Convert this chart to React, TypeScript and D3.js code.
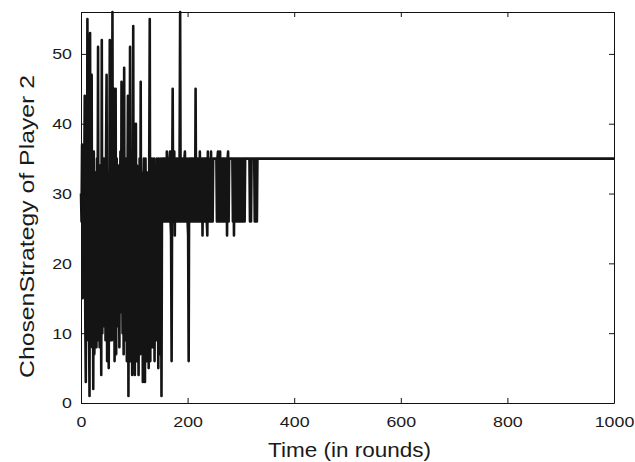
import React from 'react';
import * as d3 from 'd3';

const xTicks = [0, 200, 400, 600, 800, 1000];
const yTicks = [0, 10, 20, 30, 40, 50];

// rounds 0..155, wild phase
const earlyStrategy = [
  30,
  26, 37, 15, 33, 20, 30, 44, 12, 3, 28,
  9, 55, 10, 35, 12, 1, 53, 15, 32, 47,
  8, 27, 2, 36, 7, 11, 33, 24, 8, 35,
  20, 51, 9, 30, 8, 34, 25, 4, 52, 10,
  31, 13, 35, 11, 29, 9, 36, 47, 6, 27,
  33, 5, 24, 52, 9, 34, 28, 9, 56, 10,
  32, 45, 6, 26, 45, 7, 35, 11, 30, 12,
  34, 8, 27, 36, 13, 46, 24, 10, 33, 7,
  48, 9, 30, 25, 35, 6, 28, 44, 1, 31,
  10, 51, 6, 33, 26, 4, 30, 54, 8, 35,
  4, 28, 40, 6, 34, 9, 30, 4, 25, 35,
  7, 46, 11, 33, 27, 3, 30, 35, 9, 3,
  35, 26, 6, 33, 10, 30, 5, 35, 55, 6,
  32, 24, 35, 8, 30, 26, 35, 6, 29, 34,
  9, 35, 10, 31, 5, 35, 26, 33, 7, 35,
  1, 30, 35, 26, 35,
];

// rounds 156..331, switching between 26 and 35
const bandStrategy = [
  26, 35, 26, 35, 26, 36, 26, 35, 26, 35,
  35, 36, 26, 24, 6, 30, 45, 26, 35, 36,
  24, 35, 26, 35, 26, 35, 26, 35, 26, 36,
  56, 26, 35, 26, 35, 26, 35, 26, 35, 36,
  26, 35, 26, 35, 26, 24, 6, 35, 26, 35,
  26, 35, 26, 35, 26, 35, 26, 35, 26, 45,
  26, 35, 26, 35, 26, 35, 26, 36, 26, 35,
  26, 35, 24, 35, 26, 35, 26, 35, 26, 35,
  26, 24, 36, 26, 35, 26, 35, 26, 36, 26,
  35, 26, 35, 35, 35, 35, 35, 35, 35, 26,
  35, 36, 26, 35, 26, 36, 26, 35, 26, 35,
  26, 35, 26, 35, 26, 35, 26, 35, 24, 35,
  36, 26, 35, 35, 35, 35, 35, 35, 35, 26,
  35, 24, 35, 26, 35, 26, 35, 26, 35, 26,
  35, 26, 35, 26, 35, 26, 35, 26, 35, 26,
  35, 26, 35, 35, 35, 35, 35, 35, 35, 35,
  35, 26, 35, 26, 35, 35, 35, 35, 35, 35,
  26, 35, 26, 35, 26, 35,
];

// settled from then on
const settledRounds = [1000];
const settledValues = [35];

const App = () => {
  const Width = 635;
  const Height = 462;
  const margin = { top: 12, right: 21, bottom: 59, left: 81 };
  const chartWidth = Width - margin.left - margin.right;
  const chartHeight = Height - margin.top - margin.bottom;

  const xScale = d3.scaleLinear().domain([0, 1000]).range([0, chartWidth]);
  const yScale = d3.scaleLinear().domain([0, 56]).range([chartHeight, 0]);

  const points: [number, number][] = [...earlyStrategy, ...bandStrategy].map((v, i) => [i, v]);
  settledRounds.forEach((r, i) => points.push([r, settledValues[i]]));

  const line = d3
    .line<[number, number]>()
    .x((d) => xScale(d[0]))
    .y((d) => yScale(d[1]));

  const styleAxis = (g: any, withText: boolean) => {
    g.select('.domain').attr('stroke', '#111').attr('stroke-width', 1);
    g.selectAll('.tick line').attr('stroke', '#111');
    if (withText) {
      g.selectAll('.tick text')
        .attr('fill', '#1a1a1a')
        .style('font-family', '"Liberation Sans", Arial, sans-serif')
        .style('font-size', '15.5px')
        .attr('lengthAdjust', 'spacingAndGlyphs')
        .attr('textLength', (d: number) => String(d).length * 9.9);
    }
  };

  return (
    <svg width={Width} height={Height} style={{ position: 'absolute', left: 0, top: 0 }}>
      <rect width={Width} height={Height} fill="#fff" />
      <g transform={`translate(${margin.left}, ${margin.top})`}>
        <path d={line(points) || ''} fill="none" stroke="#141414" strokeWidth={2.6} strokeLinejoin="round" />

        <g
          transform={`translate(0, ${chartHeight})`}
          ref={(node) => {
            if (node) d3.select(node).call(d3.axisBottom(xScale).tickValues(xTicks).tickFormat(d3.format('d')).tickSizeInner(-5).tickSizeOuter(0).tickPadding(13)).call((g) => styleAxis(g, true));
          }}
        />
        <g
          ref={(node) => {
            if (node) d3.select(node).call(d3.axisTop(xScale).tickValues(xTicks).tickSizeInner(-5).tickSizeOuter(0).tickFormat(() => '')).call((g) => styleAxis(g, false));
          }}
        />
        <g
          ref={(node) => {
            if (node) d3.select(node).call(d3.axisLeft(yScale).tickValues(yTicks).tickFormat(d3.format('d')).tickSizeInner(-5).tickSizeOuter(0).tickPadding(9)).call((g) => styleAxis(g, true));
          }}
        />
        <g
          transform={`translate(${chartWidth}, 0)`}
          ref={(node) => {
            if (node) d3.select(node).call(d3.axisRight(yScale).tickValues(yTicks).tickSizeInner(-5).tickSizeOuter(0).tickFormat(() => '')).call((g) => styleAxis(g, false));
          }}
        />
      </g>

      <text
        x={349.5}
        y={456.5}
        textAnchor="middle"
        textLength={163}
        lengthAdjust="spacingAndGlyphs"
        style={{ fontFamily: '"Liberation Sans", Arial, sans-serif', fontSize: '21px', fill: '#1a1a1a' }}
      >
        Time (in rounds)
      </text>
      <text
        transform="translate(34, 226.5) rotate(-90)"
        textAnchor="middle"
        textLength={303}
        lengthAdjust="spacingAndGlyphs"
        style={{ fontFamily: '"Liberation Sans", Arial, sans-serif', fontSize: '21px', fill: '#1a1a1a' }}
      >
        ChosenStrategy of Player 2
      </text>
    </svg>
  );
};

export default App;
